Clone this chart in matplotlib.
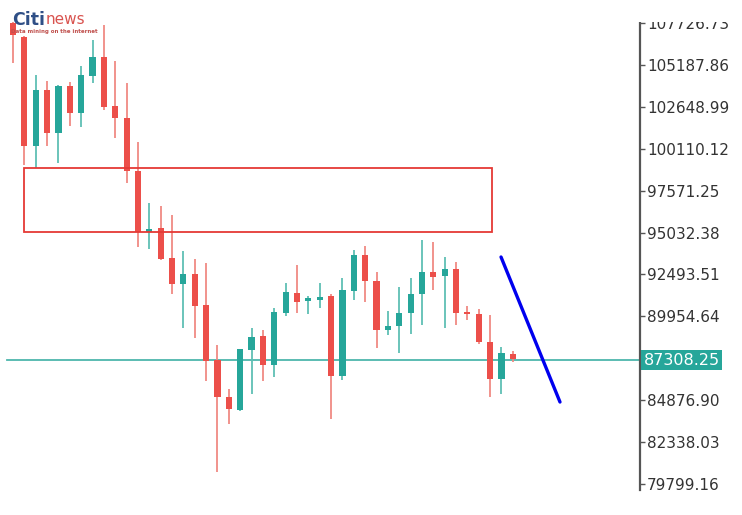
import matplotlib
matplotlib.use("Agg")
import matplotlib.pyplot as plt
from matplotlib.patches import Rectangle
import numpy as np

# ---- candle data ----
opens  = [107731, 106883, 100278, 103671, 101066, 103914, 102278, 104520, 105671, 102702,
          101975, 98764, 95068, 95310, 93492, 91917, 92523, 90645, 87312, 85070,
          84283, 87918, 88766, 87009, 90160, 91372, 90887, 90947, 91190, 86343,
          91493, 93674, 92099, 89130, 89372, 90160, 91311, 92644, 92402, 92826,
          90220, 90099, 88403, 86161, 87676]
highs  = [107800, 106950, 104580, 104217, 103950, 104156, 105126, 106701, 107610, 105429,
          104096, 100521, 96825, 96643, 96098, 93916, 93432, 93189, 88221, 85555,
          87979, 89251, 89130, 90463, 91978, 93068, 91190, 91978, 91311, 92281,
          93977, 94219, 92644, 90281, 91735, 92281, 94583, 94462, 93553, 93250,
          90584, 90402, 90039, 88100, 87857]
lows   = [105307, 99127, 98945, 100278, 99248, 101490, 101430, 104096, 102460, 100763,
          98037, 94159, 94038, 93400, 91311, 89251, 88645, 86040, 80526, 83434,
          84222, 85252, 86040, 86282, 89978, 90160, 90099, 90463, 83737, 86100,
          90947, 90826, 88039, 88827, 87736, 88888, 89433, 91553, 89251, 89433,
          89736, 88282, 85070, 85252, 87191]
closes = [107004, 100278, 103671, 101066, 103914, 102278, 104580, 105671, 102641, 101975,
          98764, 95068, 95249, 93432, 91917, 92523, 90584, 87252, 85070, 84343,
          87979, 88706, 87009, 90220, 91432, 90826, 91069, 91129, 86343, 91553,
          93674, 92099, 89130, 89372, 90160, 91311, 92644, 92341, 92826, 90160,
          90099, 88403, 86161, 87736, 87373]

last_price = 87308.25
tick_vals = [107726.73, 105187.86, 102648.99, 100110.12, 97571.25, 95032.38,
             92493.51, 89954.64, 84876.90, 82338.03, 79799.16]

# zone box and trend line
zone_x = [0.97, 42.17]
zone_y = [95060, 98950]
trend_x = [42.96, 48.15]
trend_y = [93553, 84767]

RED = "#ec4f4a"
RED_W = "#f08a84"
GREEN = "#26a69a"
GREEN_W = "#5fbfb4"

fig = plt.figure(figsize=(7.42, 5.15), dpi=100)
ax = fig.add_axes([0, 25 / 515, 640 / 742, 470 / 515])

x = np.arange(len(opens))
for i in x:
    up = closes[i] >= opens[i]
    c = GREEN if up else RED
    cw = GREEN_W if up else RED_W
    ax.vlines(i, lows[i], highs[i], color=cw, lw=1.3, zorder=2)
    lo = min(opens[i], closes[i])
    h = max(abs(closes[i] - opens[i]), 60)
    ax.add_patch(Rectangle((i - 0.27, lo), 0.54, h, color=c, zorder=3, lw=0))

# current price line
ax.axhline(last_price, xmin=7 / 640, xmax=1, color="#4db6ac", lw=1.3, zorder=1)

# red zone
ax.add_patch(Rectangle((zone_x[0], zone_y[0]), zone_x[1] - zone_x[0], zone_y[1] - zone_y[0],
                       fill=False, edgecolor="#e53935", lw=1.3, zorder=4))

# blue trend line
ax.plot(trend_x, trend_y, color="#0000ee", lw=2.4, solid_capstyle="round", zorder=5)

ax.set_xlim(-13 / 11.36, 627 / 11.36)
ax.set_ylim(79436, 107913)

for s in ["top", "left", "bottom"]:
    ax.spines[s].set_visible(False)
ax.spines["right"].set_color("#555555")
ax.spines["right"].set_linewidth(1.6)

ax.set_xticks([])
ax.yaxis.tick_right()
ax.set_yticks(tick_vals)
ax.set_yticklabels([f"{v:.2f}" for v in tick_vals])
ax.tick_params(axis="y", length=3.5, width=1, color="#555555", pad=1.5,
               labelsize=11, labelcolor="#333333")

# price tag
ax.text(1.006, last_price, f"{last_price:.2f}", transform=ax.get_yaxis_transform(),
        ha="left", va="center", color="white", fontsize=11.5, zorder=6,
        bbox=dict(boxstyle="square,pad=0.15", fc="#26a69a", ec="none"))

# top crop (first label is cut off)
fig.patches.append(Rectangle((600 / 742, 493 / 515), 142 / 742, 22 / 515,
                             transform=fig.transFigure, fc="white", ec="none", zorder=5))

# logo
fig.text(12 / 742, 1 - 25 / 515, "Citi", color="#2f4f86", fontsize=12.5, fontweight="bold",
         ha="left", va="baseline", zorder=10)
fig.text(46 / 742, 1 - 24 / 515, "news", color="#d9534f", fontsize=11,
         ha="left", va="baseline", zorder=10)
fig.text(11 / 742, 1 - 33 / 515, "Data mining on the internet", color="#c0504d", fontsize=4,
         fontweight="bold", ha="left", va="baseline", zorder=10)

fig.savefig("out.png", dpi=100, facecolor="white")
